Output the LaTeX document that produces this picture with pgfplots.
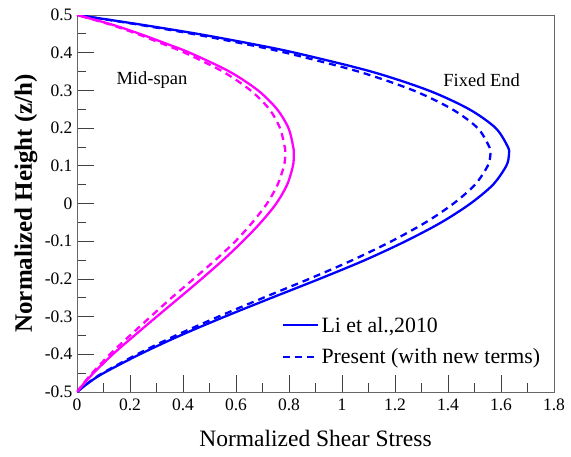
\documentclass[border=0pt]{standalone}
\usepackage{fontspec}
\setmainfont{Liberation Serif}
\usepackage{pgfplots}
\pgfplotsset{compat=1.18}
\definecolor{pblue}{RGB}{0,0,255}
\definecolor{pmag}{RGB}{255,0,255}
\begin{document}
\begin{tikzpicture}
\useasboundingbox (-77pt,-64pt) rectangle (494pt,392pt);
\begin{axis}[
  at={(0pt,0pt)}, anchor=south west,
  scale only axis, width=477pt, height=377pt,
  xmin=0, xmax=1.8, ymin=-0.5, ymax=0.5,
  xtick={0,0.2,0.4,0.6,0.8,1,1.2,1.4,1.6,1.8},
  ytick={-0.5,-0.4,-0.3,-0.2,-0.1,0,0.1,0.2,0.3,0.4,0.5},
  minor x tick num=1, minor y tick num=1,
  tick align=inside, xtick pos=lower, ytick pos=left,
  major tick length=17pt, minor tick length=9pt,
  tick style={black!75, line width=0.8pt},
  axis line style={black!60, line width=0.9pt},
  /pgf/number format/assume math mode=true,
  ticklabel style={font=\fontsize{17.5}{19}\selectfont},
  xticklabel style={yshift=-3pt},
  yticklabel style={xshift=-1pt},
  every axis x label/.style={at={(axis description cs:0.5,0)}, yshift=-46pt, anchor=center, font=\fontsize{23.5}{26}\selectfont},
  every axis y label/.style={at={(axis description cs:0,0.5)}, xshift=-51pt, rotate=90, anchor=center, font=\bfseries\fontsize{25}{27}\selectfont},
  xlabel={Normalized Shear Stress},
  ylabel={Normalized Height (z/h)},
  legend style={at={(axis description cs:0.43,0.205)}, anchor=north west, draw=none, fill=none,
    font=\fontsize{21.8}{24}\selectfont, row sep=11pt, inner sep=0pt,
    /tikz/every even column/.append style={column sep=6pt}},
  legend cell align=left,
  legend image code/.code={\draw[#1] (0pt,0pt) -- (35pt,0pt);},
  every axis plot/.append style={line width=2.3pt},
]
\addplot[pblue, smooth] coordinates {
(0,-0.5) (0.045,-0.475) (0.10,-0.45) (0.237,-0.40) (0.39,-0.35) (0.558,-0.30) (0.735,-0.25) (0.915,-0.20)
(1.087,-0.15) (1.24,-0.10) (1.375,-0.05) (1.485,0.00) (1.57,0.05) (1.62,0.10) (1.63,0.13)
(1.626,0.15) (1.58,0.20) (1.48,0.25) (1.326,0.30) (1.11,0.35) (0.822,0.40) (0.648,0.425) (0.455,0.45)
(0.237,0.475) (0,0.5)};
\addlegendentry{Li et al.,2010}
\addplot[pblue, smooth, dash pattern=on 7pt off 5pt] coordinates {
(0,-0.5) (0.043,-0.475) (0.096,-0.45) (0.227,-0.40) (0.373,-0.35) (0.534,-0.30) (0.703,-0.25) (0.876,-0.20)
(1.04,-0.15) (1.187,-0.10) (1.316,-0.05) (1.421,0.00) (1.502,0.05) (1.55,0.10) (1.56,0.13)
(1.556,0.15) (1.512,0.20) (1.416,0.25) (1.269,0.30) (1.062,0.35) (0.787,0.40) (0.62,0.425) (0.435,0.45)
(0.227,0.475) (0,0.5)};
\addlegendentry{Present (with new terms)}
\addplot[pmag, smooth, forget plot] coordinates {
(0,-0.5) (0.029,-0.475) (0.062,-0.45) (0.135,-0.40) (0.217,-0.35) (0.301,-0.30) (0.386,-0.25) (0.47,-0.20)
(0.551,-0.15) (0.626,-0.10) (0.694,-0.05) (0.752,0.00) (0.793,0.05) (0.815,0.10) (0.818,0.13)
(0.816,0.15) (0.798,0.20) (0.755,0.25) (0.683,0.30) (0.575,0.35) (0.425,0.40) (0.333,0.425) (0.237,0.45)
(0.13,0.475) (0,0.5)};
\addplot[pmag, smooth, forget plot, dash pattern=on 7pt off 5pt] coordinates {
(0,-0.5) (0.027,-0.475) (0.057,-0.45) (0.124,-0.40) (0.20,-0.35) (0.278,-0.30) (0.357,-0.25) (0.44,-0.20)
(0.522,-0.15) (0.598,-0.10) (0.662,-0.05) (0.717,0.00) (0.757,0.05) (0.781,0.10) (0.786,0.13)
(0.784,0.15) (0.766,0.20) (0.726,0.25) (0.655,0.30) (0.55,0.35) (0.406,0.40) (0.318,0.425) (0.226,0.45)
(0.124,0.475) (0,0.5)};
\node[font=\fontsize{18.5}{20}\selectfont] at (axis cs:0.283,0.328) {Mid-span};
\node[font=\fontsize{18.5}{20}\selectfont] at (axis cs:1.527,0.328) {Fixed End};
\end{axis}
\end{tikzpicture}
\end{document}
